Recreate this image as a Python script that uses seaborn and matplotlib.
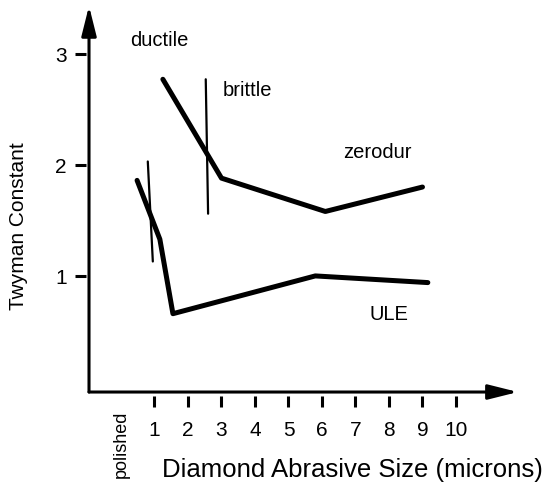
import pandas as pd
import matplotlib
matplotlib.use("Agg")
import matplotlib.pyplot as plt
import seaborn as sns

# === Data ===
zerodur_x = [1.25, 3.0, 6.1, 9.0]
zerodur_y = [2.77, 1.88, 1.58, 1.80]
ule_x = [0.48, 1.16, 1.55, 5.8, 9.16]
ule_y = [1.86, 1.33, 0.66, 1.00, 0.94]

# ductile / brittle transition marks
ule_mark_x = [0.80, 0.95]
ule_mark_y = [2.03, 1.13]
zerodur_mark_x = [2.53, 2.60]
zerodur_mark_y = [2.77, 1.56]

x_ticks = [1, 2, 3, 4, 5, 6, 7, 8, 9, 10]
y_ticks = [1, 2, 3]

labels = ["ductile", "brittle", "zerodur", "ULE"]
label_x = [0.27, 3.04, 6.63, 7.43]
label_y = [3.13, 2.68, 2.12, 0.66]

df = pd.concat([
    pd.DataFrame({"size": zerodur_x, "twyman": zerodur_y, "glass": "zerodur"}),
    pd.DataFrame({"size": ule_x, "twyman": ule_y, "glass": "ULE"}),
])

# === Style ===
sns.set_theme(style="white")
plt.rcParams["font.family"] = ["Liberation Sans", "DejaVu Sans"]
plt.rcParams["text.color"] = "black"
plt.rcParams["axes.labelcolor"] = "black"

fig = plt.figure(figsize=(5.46, 4.85), dpi=100)
ax = fig.add_axes([0.1575, 0.1814, 0.804, 0.802])

sns.lineplot(data=df, x="size", y="twyman", units="glass", estimator=None,
             sort=False, color="black", lw=3.6, ax=ax, legend=False)
sns.lineplot(x=ule_mark_x, y=ule_mark_y, color="black", lw=1.6, ax=ax)
sns.lineplot(x=zerodur_mark_x, y=zerodur_mark_y, color="black", lw=1.6, ax=ax)

ax.set_xlim(-1.045, 12.06)
ax.set_ylim(-0.081, 3.42)

for s in ax.spines.values():
    s.set_visible(False)

# axes drawn as arrows
arrow = dict(arrowstyle="-|>,head_length=1.8,head_width=0.45", lw=2.2,
             color="black", shrinkA=0, shrinkB=0, mutation_scale=10)
ax.annotate("", xy=(-0.955, 3.43), xytext=(-0.955, -0.045), arrowprops=arrow,
            annotation_clip=False)
ax.annotate("", xy=(11.85, -0.045), xytext=(-0.955, -0.045), arrowprops=arrow,
            annotation_clip=False)

ax.set_xticks(x_ticks)
ax.set_xticklabels([str(t) for t in x_ticks])
ax.set_yticks(y_ticks)
ax.set_yticklabels([str(t) for t in y_ticks])
ax.tick_params(axis="both", direction="out", length=8, width=2.2,
               color="black", labelsize=15, labelcolor="black", pad=6,
               bottom=True, left=True)
ax.tick_params(axis="x", pad=9)

ax.text(0, -0.505, "polished", rotation=90, ha="center", va="center",
        fontsize=13, clip_on=False)

for t, x, y in zip(labels, label_x, label_y):
    ax.text(x, y, t, ha="left", va="center", fontsize=14.5)

ax.set_xlabel("Diamond Abrasive Size (microns)", fontsize=18.5)
ax.xaxis.set_label_coords(0.606, -0.157)
ax.set_ylabel("Twyman Constant", fontsize=15)
ax.yaxis.set_label_coords(-0.132, 0.44)

fig.savefig("out.png", dpi=100)
